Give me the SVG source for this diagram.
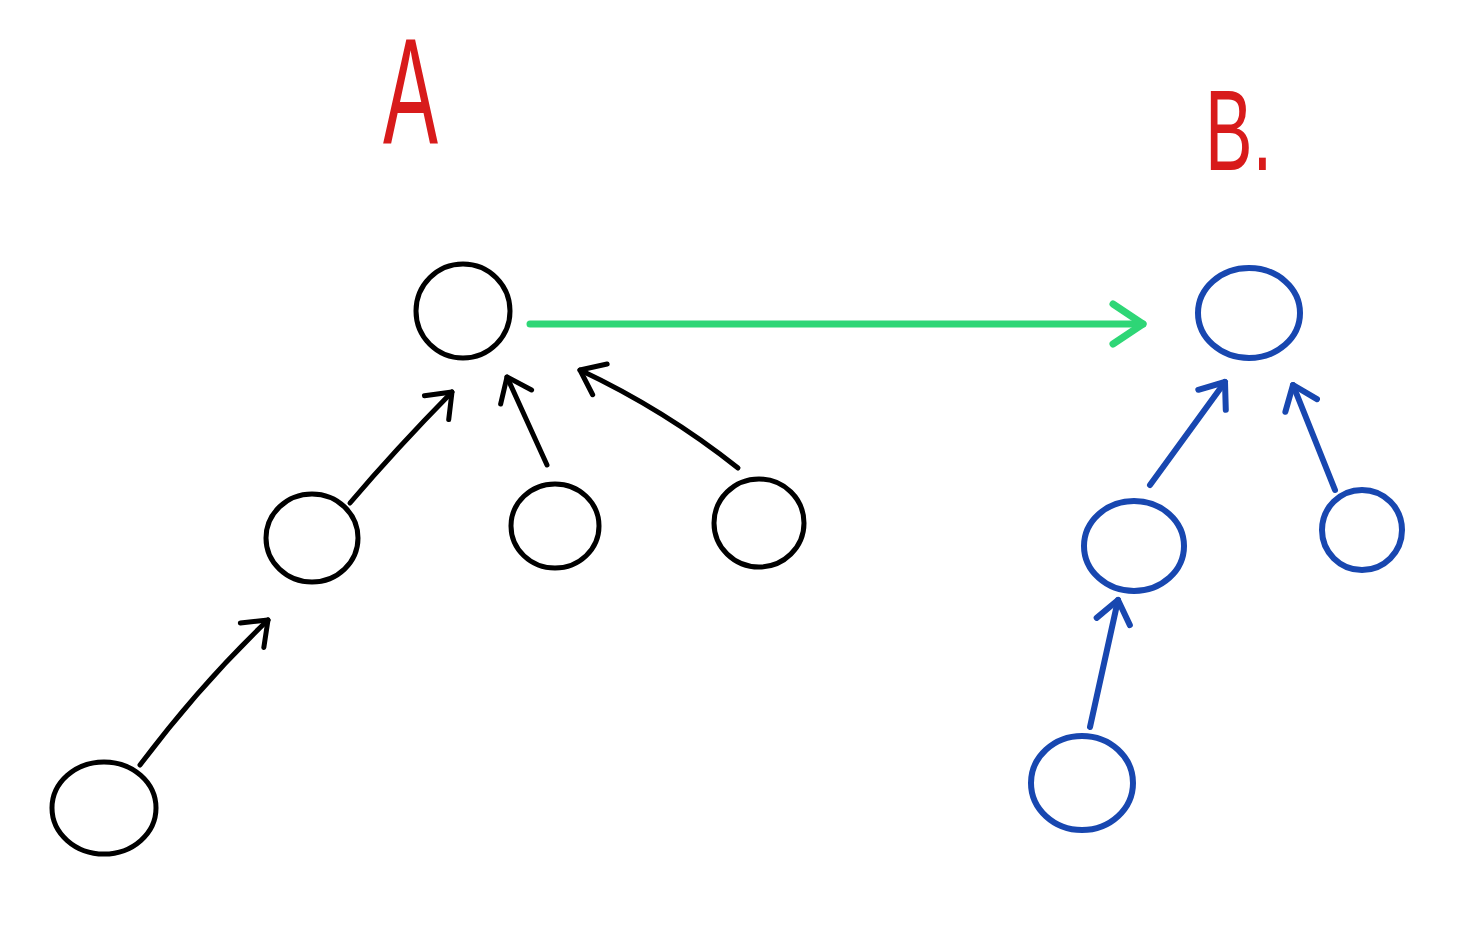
<svg xmlns="http://www.w3.org/2000/svg" width="1483" height="927" viewBox="0 0 1483 927">
<style>
.k{fill:none;stroke:#000;stroke-width:5;stroke-linecap:round;stroke-linejoin:round}
.b{fill:none;stroke:#1847b0;stroke-width:6;stroke-linecap:round;stroke-linejoin:round}
.g{fill:none;stroke:#2ed676;stroke-width:7;stroke-linecap:round;stroke-linejoin:round}
.lbl{fill:#d81b1b;font-family:"Liberation Sans",Arial,sans-serif;font-weight:normal}
</style>
<defs>
<marker id="ak" markerUnits="userSpaceOnUse" markerWidth="50" markerHeight="50" refX="25" refY="25" orient="auto" overflow="visible">
<path d="M3,8 L25,25 L3,42" fill="none" stroke="#000" stroke-width="5" stroke-linecap="round" stroke-linejoin="round"/>
</marker>
<marker id="ab" markerUnits="userSpaceOnUse" markerWidth="50" markerHeight="50" refX="25" refY="25" orient="auto" overflow="visible">
<path d="M3,8 L25,25 L3,42" fill="none" stroke="#1847b0" stroke-width="6" stroke-linecap="round" stroke-linejoin="round"/>
</marker>
<marker id="ag" markerUnits="userSpaceOnUse" markerWidth="50" markerHeight="50" refX="25" refY="25" orient="auto" overflow="visible">
<path d="M-5,5 L25,25 L-5,45" fill="none" stroke="#2ed676" stroke-width="7" stroke-linecap="round" stroke-linejoin="round"/>
</marker>
</defs>
<g id="label-A"><text class="lbl" x="0" y="0" font-size="150" transform="translate(383,143) scale(0.55,1)">A</text></g>
<g id="label-B"><text class="lbl" x="0" y="0" font-size="115" transform="translate(1205,170) scale(0.62,1)">B.</text></g>
<g id="A-root"><ellipse class="k" cx="463" cy="311" rx="47" ry="47"/></g>
<g id="A-c1"><ellipse class="k" cx="312" cy="538" rx="46" ry="44"/></g>
<g id="A-c2"><ellipse class="k" cx="555" cy="526" rx="44" ry="42"/></g>
<g id="A-c3"><ellipse class="k" cx="759" cy="523" rx="45" ry="44"/></g>
<g id="A-gc"><ellipse class="k" cx="104" cy="808" rx="52" ry="46"/></g>
<g id="B-root"><ellipse class="b" cx="1249" cy="313" rx="51" ry="45"/></g>
<g id="B-c1"><ellipse class="b" cx="1134" cy="546" rx="50" ry="45"/></g>
<g id="B-c2"><ellipse class="b" cx="1362" cy="530" rx="40" ry="40"/></g>
<g id="B-gc"><ellipse class="b" cx="1082" cy="783" rx="51" ry="47"/></g>
<g id="connectors">
<path class="k" d="M350,503 Q395,450 452,392" marker-end="url(#ak)"/>
<path class="k" d="M547,465 L507,377" marker-end="url(#ak)"/>
<path class="k" d="M738,468 Q665,410 580,370" marker-end="url(#ak)"/>
<path class="k" d="M140,765 Q200,685 268,620" marker-end="url(#ak)"/>
<path class="g" d="M530,324 L1143,324" marker-end="url(#ag)"/>
<path class="b" d="M1150,485 L1225,382" marker-end="url(#ab)"/>
<path class="b" d="M1335,490 L1293,385" marker-end="url(#ab)"/>
<path class="b" d="M1090,727 L1118,600" marker-end="url(#ab)"/>
</g>
</svg>
